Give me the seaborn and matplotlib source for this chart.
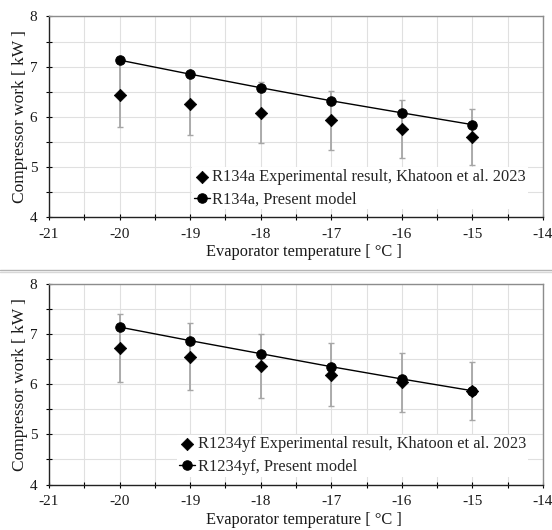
import matplotlib
matplotlib.use('Agg')
import matplotlib.pyplot as plt
import matplotlib.ticker as mtick
import seaborn as sns
from matplotlib.lines import Line2D

# evaporator temperatures [C]
evap_temp = [-20, -19, -18, -17, -16, -15]

# R134a: experiment (Khatoon et al. 2023) with error bars, and present model
r134a_exp = [6.43, 6.26, 6.08, 5.93, 5.755, 5.595]
r134a_exp_err = [0.64, 0.63, 0.61, 0.59, 0.575, 0.56]
r134a_model = [7.13, 6.85, 6.58, 6.32, 6.08, 5.845]

# R1234yf: experiment with error bars, and present model
r1234yf_exp = [6.72, 6.55, 6.37, 6.19, 6.035, 5.86]
r1234yf_exp_err = [0.68, 0.665, 0.64, 0.625, 0.595, 0.58]
r1234yf_model = [7.14, 6.87, 6.61, 6.35, 6.105, 5.87]

x_ticks = [-21, -20, -19, -18, -17, -16, -15, -14]
y_ticks = [4, 5, 6, 7, 8]

sns.set_style('ticks')
plt.rcParams['font.family'] = ['Liberation Serif', 'DejaVu Serif']
plt.rcParams['font.size'] = 11
plt.rcParams['axes.unicode_minus'] = False


def draw_panel(ax, exp, exp_err, model, name):
    # error bars of the experimental points
    ax.errorbar(evap_temp, exp, yerr=exp_err, fmt='none', ecolor='#a6a6a6',
                elinewidth=1.3, capsize=2, capthick=1, zorder=2)
    sns.scatterplot(x=evap_temp, y=exp, marker='D', s=40, color='black',
                    edgecolor='black', linewidth=0.5, zorder=3, ax=ax,
                    label=f'{name} Experimental result, Khatoon et al. 2023')
    sns.lineplot(x=evap_temp, y=model, marker='o', markersize=6.8, color='black',
                 markeredgecolor='black', linewidth=1, zorder=4, ax=ax,
                 label=f'{name}, Present model')

    ax.set_xlim(-21, -14)
    ax.set_ylim(4, 8)
    ax.set_xticks(x_ticks)
    ax.set_yticks(y_ticks)
    ax.xaxis.set_minor_locator(mtick.MultipleLocator(0.5))
    ax.yaxis.set_minor_locator(mtick.MultipleLocator(0.5))
    ax.grid(which='both', color='#e0e0e0', linewidth=0.8, zorder=0)
    ax.set_axisbelow(True)
    ax.tick_params(which='both', direction='inout', length=4, width=0.8,
                   color='black', labelsize=11, labelcolor='#1a1a1a')
    ax.tick_params(axis='y', pad=6.5)
    ax.tick_params(axis='x', pad=5.5)

    for side in ['left', 'bottom']:
        ax.spines[side].set_color('#222222')
        ax.spines[side].set_linewidth(1)
    for side in ['top', 'right']:
        ax.spines[side].set_color('#8c8c8c')
        ax.spines[side].set_linewidth(1)

    ax.set_xlabel('Evaporator temperature [ °C ]', fontsize=11.8, color='#1a1a1a')
    ax.set_ylabel('Compressor work [ kW ]', fontsize=12.5, color='#1a1a1a')
    ax.xaxis.set_label_coords(0.517, -0.135)
    ax.yaxis.set_label_coords(-0.043, 0.5)

    leg = ax.legend(loc='lower right', bbox_to_anchor=(0.969, 0.04),
                    fontsize=11.8, frameon=True, fancybox=False, framealpha=1,
                    facecolor='white', edgecolor='none', borderpad=0.1,
                    handlelength=1.0, handletextpad=0.15, labelspacing=0.4,
                    borderaxespad=0)
    leg.set_zorder(1.5)


fig = plt.figure(figsize=(5.52, 5.30), dpi=100)
ax_top = fig.add_axes([0.0888, 0.590, 0.895, 0.379])
ax_bot = fig.add_axes([0.0888, 0.0858, 0.895, 0.3784])

draw_panel(ax_top, r134a_exp, r134a_exp_err, r134a_model, 'R134a')
draw_panel(ax_bot, r1234yf_exp, r1234yf_exp_err, r1234yf_model, 'R1234yf')

# double separator line between the two pasted charts
fig.add_artist(Line2D([0, 1], [0.490, 0.490], transform=fig.transFigure,
                      color='#b4b4b4', linewidth=1))
fig.add_artist(Line2D([0, 1], [0.4868, 0.4868], transform=fig.transFigure,
                      color='#d8d8d8', linewidth=1))

fig.savefig('out.png', dpi=100)
